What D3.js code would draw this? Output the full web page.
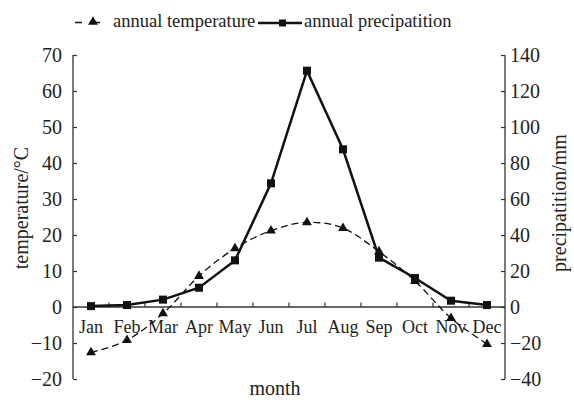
<!DOCTYPE html>
<html>
<head>
<meta charset="utf-8">
<script src="https://cdn.jsdelivr.net/npm/d3@7"></script>
<style>
  body { margin: 0; background: #fff; }
  svg text { font-family: 'Liberation Serif', 'Times New Roman', Tinos, 'DejaVu Serif', 'Noto Serif', serif; fill: #222; }
</style>
</head>
<body>
<div id="chart"></div>
<script>
var months = ["Jan","Feb","Mar","Apr","May","Jun","Jul","Aug","Sep","Oct","Nov","Dec"];
var temperature = [-12.6, -9.2, -1.8, 8.6, 16.3, 21.2, 23.5, 21.9, 15.4, 7.2, -3.1, -10.3];
var precipitation = [0.5, 1.1, 4.1, 10.7, 25.9, 68.7, 131.3, 87.6, 27.4, 16.1, 3.5, 1.1];
var tempTicks = [-20, -10, 0, 10, 20, 30, 40, 50, 60, 70];
var precTicks = [-40, -20, 0, 20, 40, 60, 80, 100, 120, 140];

var width = 574, height = 400,
    margin = {top: 55, right: 69, bottom: 21, left: 73};
var serif = "'Liberation Serif', 'Times New Roman', Tinos, 'DejaVu Serif', 'Noto Serif', serif";

var svg = d3.select('#chart')
  .append('svg')
    .attr('width', width)
    .attr('height', height)
    .attr('font-family', serif);

var x = d3.scaleBand()
  .domain(months)
  .range([margin.left, width - margin.right]);

var yT = d3.scaleLinear()
  .domain([-20, 70])
  .range([height - margin.bottom, margin.top]);

var yP = d3.scaleLinear()
  .domain([-40, 140])
  .range([height - margin.bottom, margin.top]);

var fmt = function(d){ return d < 0 ? "\u2212" + Math.abs(d) : d; };
var axisColor = "#333";

// left axis, ticks pointing inside
var gl = svg.append('g')
  .attr('transform', 'translate(' + margin.left + ',0)')
  .call(d3.axisRight(yT).tickValues(tempTicks).tickSize(4).tickFormat(fmt))
  .attr('font-family', serif);
gl.select('.domain').attr('stroke', axisColor).attr('stroke-width', 1.3).attr('d', 'M0,' + yT(-20) + 'V' + yT(70));
gl.selectAll('.tick line').attr('stroke', axisColor).attr('stroke-width', 1.2);
gl.selectAll('.tick text')
  .attr('x', -11)
  .attr('text-anchor', 'end')
  .attr('font-size', 20);

// right axis, ticks pointing inside
var gr = svg.append('g')
  .attr('transform', 'translate(' + (width - margin.right) + ',0)')
  .call(d3.axisLeft(yP).tickValues(precTicks).tickSize(4).tickFormat(fmt))
  .attr('font-family', serif);
gr.select('.domain').attr('stroke', axisColor).attr('stroke-width', 1.3).attr('d', 'M0,' + yP(-40) + 'V' + yP(140));
gr.selectAll('.tick line').attr('stroke', axisColor).attr('stroke-width', 1.2);
gr.selectAll('.tick text')
  .attr('x', 5)
  .attr('text-anchor', 'start')
  .attr('font-size', 20);

// x axis on the zero line, ticks at band edges pointing up
var zeroY = yT(0);
svg.append('line')
  .attr('x1', margin.left).attr('x2', width - margin.right)
  .attr('y1', zeroY).attr('y2', zeroY)
  .attr('stroke', axisColor).attr('stroke-width', 1.3);

svg.selectAll('.xtick')
  .data(months.slice(1)).enter()
  .append('line')
    .attr('class', 'xtick')
    .attr('x1', function(d){ return x(d); })
    .attr('x2', function(d){ return x(d); })
    .attr('y1', zeroY).attr('y2', zeroY - 4.5)
    .attr('stroke', axisColor).attr('stroke-width', 1.2);

svg.selectAll('.xlabel')
  .data(months).enter()
  .append('text')
    .attr('class', 'xlabel')
    .attr('x', function(d){ return x(d) + x.bandwidth() / 2; })
    .attr('y', zeroY + 26)
    .attr('text-anchor', 'middle')
    .attr('font-size', 18)
    .text(function(d){ return d; });

// axis titles
svg.append('text')
  .attr('transform', 'translate(28,208) rotate(-90)')
  .attr('text-anchor', 'middle')
  .attr('font-size', 20)
  .text('temperature/\u00B0C');

svg.append('text')
  .attr('transform', 'translate(566,203) rotate(-90)')
  .attr('text-anchor', 'middle')
  .attr('font-size', 20)
  .text('precipatition/mm');

svg.append('text')
  .attr('x', 275)
  .attr('y', 395)
  .attr('text-anchor', 'middle')
  .attr('font-size', 20)
  .text('month');

// lines
var cx = function(d, i){ return x(months[i]) + x.bandwidth() / 2; };

var tempLine = d3.line()
  .x(cx)
  .y(function(d){ return yT(d); })
  .curve(d3.curveCardinal.tension(0));

var precLine = d3.line()
  .x(cx)
  .y(function(d){ return yP(d); });

svg.append('path')
  .datum(temperature)
  .attr('d', tempLine)
  .attr('fill', 'none')
  .attr('stroke', '#111')
  .attr('stroke-width', 1.3)
  .attr('stroke-dasharray', '7,4');

svg.append('path')
  .datum(precipitation)
  .attr('d', precLine)
  .attr('fill', 'none')
  .attr('stroke', '#111')
  .attr('stroke-width', 2.5);

var tri = d3.symbol().type(d3.symbolTriangle).size(42);

svg.selectAll('.tri')
  .data(temperature).enter()
  .append('path')
    .attr('class', 'tri')
    .attr('d', tri)
    .attr('transform', function(d, i){ return 'translate(' + cx(d, i) + ',' + yT(d) + ')'; })
    .attr('fill', '#111');

svg.selectAll('.sq')
  .data(precipitation).enter()
  .append('rect')
    .attr('class', 'sq')
    .attr('x', function(d, i){ return cx(d, i) - 4; })
    .attr('y', function(d){ return yP(d) - 4; })
    .attr('width', 8)
    .attr('height', 8)
    .attr('fill', '#111');

// legend
var legend = svg.append('g').attr('id', 'g_legend');

legend.append('line')
  .attr('x1', 75).attr('x2', 111)
  .attr('y1', 22.5).attr('y2', 22.5)
  .attr('stroke', '#111').attr('stroke-width', 1.3)
  .attr('stroke-dasharray', '7,11');
legend.append('path')
  .attr('d', tri)
  .attr('transform', 'translate(93,22)')
  .attr('fill', '#111');
legend.append('text')
  .attr('x', 113)
  .attr('y', 27)
  .attr('font-size', 18.5)
  .text('annual temperature');

legend.append('line')
  .attr('x1', 258).attr('x2', 302)
  .attr('y1', 23).attr('y2', 23)
  .attr('stroke', '#111').attr('stroke-width', 2.5);
legend.append('rect')
  .attr('x', 279).attr('y', 19.5)
  .attr('width', 7).attr('height', 7)
  .attr('fill', '#111');
legend.append('text')
  .attr('x', 304)
  .attr('y', 27)
  .attr('font-size', 18.5)
  .text('annual precipatition');
</script>
</body>
</html>
